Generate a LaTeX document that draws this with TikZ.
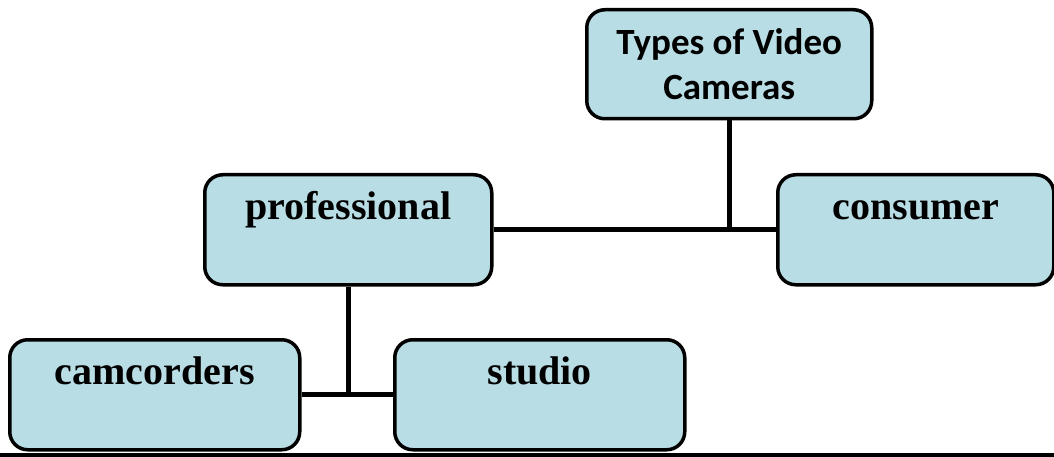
\documentclass[tikz,border=0pt]{standalone}
\usepackage{fontspec}
\setmainfont{Liberation Serif}
\newfontfamily\boxsans{Carlito}
\definecolor{boxfill}{RGB}{184,221,228}
\begin{document}
\begin{tikzpicture}[x=1pt,y=-1pt,
  box/.style={draw=black, line width=3.5pt, fill=boxfill, rounded corners=18pt,
    anchor=north west, inner sep=0pt, text height=45pt, text depth=65pt,
    align=center, font=\fontsize{40}{46}\selectfont\bfseries},
  topbox/.style={draw=black, line width=3.5pt, fill=boxfill, rounded corners=18pt,
    anchor=north west, inner sep=0pt, minimum width=285pt, minimum height=109pt,
    align=center, font=\boxsans\fontsize{37}{45}\selectfont\bfseries},
  link/.style={line width=5pt}]
\useasboundingbox (0,0) rectangle (1054,457);
\node[topbox] (top) at (585,8) {Types of Video\\Cameras};
\node[box, text width=287pt] (prof) at (203,173) {professional};
\node[box, text width=276pt] (cons) at (776,173) {consumer};
\node[box, text width=290pt] (cam) at (8,338) {camcorders};
\node[box, text width=290pt] (stu) at (393,338) {studio};
\draw[link] (prof.east) -- (cons.west);
\draw[link] (top.south) -- (top.south |- prof.east);
\draw[link] (cam.east) -- (stu.west);
\draw[link] (prof.south) -- (prof.south |- cam.east);
\coordinate (bl) at (0,455);
\coordinate (br) at (1054,455);
\draw[line width=3.5pt] (bl) -- (br);
\end{tikzpicture}
\end{document}
